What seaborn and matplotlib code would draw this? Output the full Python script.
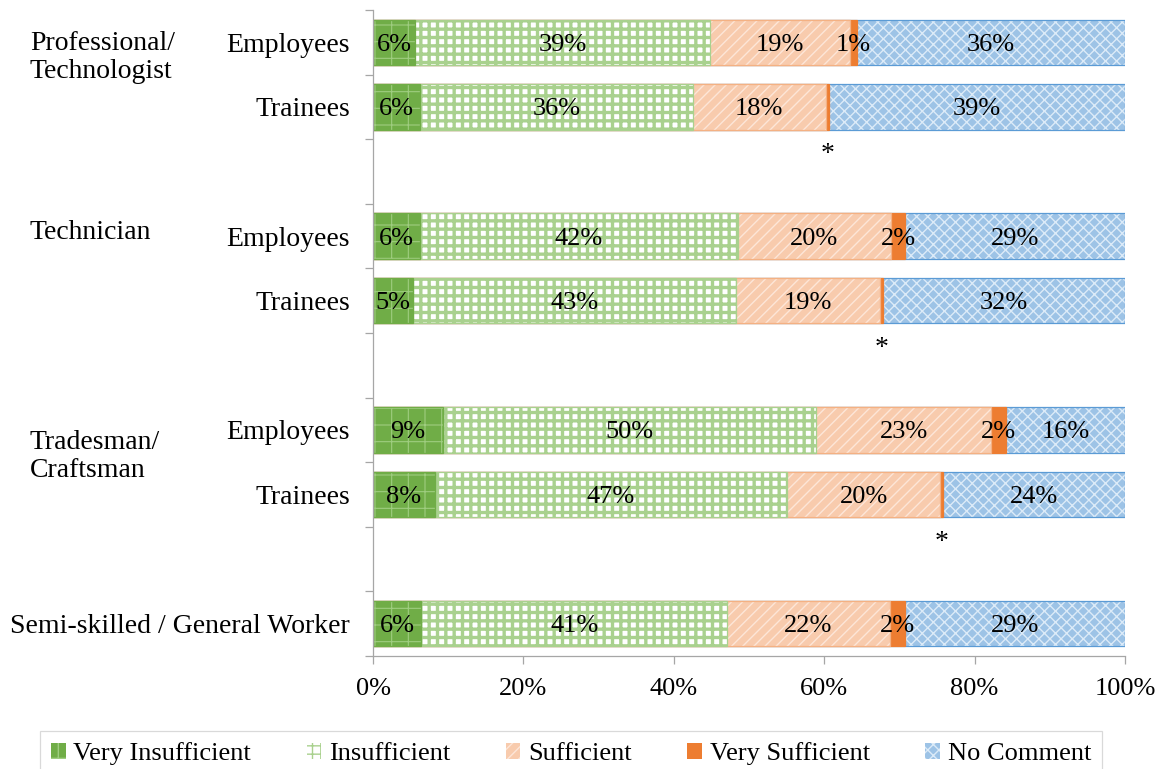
import numpy as np
import pandas as pd
import matplotlib
matplotlib.use("Agg")
import matplotlib.pyplot as plt
import matplotlib.patches as mpatches
import matplotlib.transforms as mtransforms
import seaborn as sns

# du lieu (doc tu hinh)
rows = ["Employees", "Trainees", "Employees", "Trainees", "Employees", "Trainees",
        "Semi-skilled / General Worker"]
row_pos = [0, 1, 3, 4, 6, 7, 9]
groups = ["Professional/\nTechnologist", "Technician", "Tradesman/\nCraftsman"]
group_pos = [0.24, 2.95, 6.41]

categories = ["Very Insufficient", "Insufficient", "Sufficient", "Very Sufficient", "No Comment"]
very_insufficient = [5.6, 6.3, 6.3, 5.3, 9.3, 8.2, 6.4]
insufficient = [39.2, 36.2, 42.2, 43.0, 49.6, 46.9, 40.7]
sufficient = [18.6, 17.7, 20.4, 19.1, 23.3, 20.3, 21.6]
very_sufficient = [1.0, 0.4, 1.9, 0.4, 2.0, 0.4, 2.0]
no_comment = [35.6, 39.4, 29.2, 32.2, 15.8, 24.2, 29.3]

df = pd.DataFrame({"row": rows, "pos": row_pos,
                   "Very Insufficient": very_insufficient,
                   "Insufficient": insufficient,
                   "Sufficient": sufficient,
                   "Very Sufficient": very_sufficient,
                   "No Comment": no_comment})

# style cho tung nhom: mau nen, hatch, mau hatch, do day hatch, mau vien
styles = {
    "Very Insufficient": ("#70ad47", "+", "#9fcd80", 0.8, "#70ad47"),
    "Insufficient": ("#ffffff", "++", "#a9d18e", 2.4, "#a9d18e"),
    "Sufficient": ("#f8cbad", "///", "#fde6d8", 1.0, "#f4b183"),
    "Very Sufficient": ("#ed7d31", None, "#ed7d31", 0.0, "#ed7d31"),
    "No Comment": ("#9dc3e6", "xxx", "#dcebf8", 1.0, "#5b9bd5"),
}

sns.set_theme(style="white")
plt.rcParams["font.family"] = ["Liberation Serif", "DejaVu Serif"]
plt.rcParams["text.color"] = "black"
plt.rcParams["xtick.color"] = "black"
plt.rcParams["ytick.color"] = "black"

fig = plt.figure(figsize=(11.66, 7.69), dpi=100)
ax = fig.add_axes([373 / 1166, 1 - 656 / 769, (1125 - 373) / 1166, (656 - 10) / 769])

cum = df[categories].cumsum(axis=1)

# ve tu lop ngoai vao trong (stacked bang cach chong cac thanh tich luy)
for cat in categories[::-1]:
    face, hatch, hcol, hlw, ecol = styles[cat]
    n_before = len(ax.patches)
    with plt.rc_context({"hatch.linewidth": max(hlw, 0.1)}):
        sns.barplot(x=cum[cat], y=df["pos"], orient="h", native_scale=True,
                    color=face, saturation=1, hatch=hatch, edgecolor=hcol,
                    linewidth=0, width=0.7, errorbar=None, ax=ax)
    for p in ax.patches[n_before:]:
        if hasattr(p, "set_hatch_linewidth"):
            p.set_hatch_linewidth(max(hlw, 0.1))
    ax.barh(df["pos"], cum[cat], height=0.7, facecolor="none",
            edgecolor=ecol, linewidth=0.9)

# nhan phan tram
for i in range(len(df)):
    left = 0
    for cat in categories:
        v = df[cat].iloc[i]
        if v >= 0.5:
            ax.text(left + v / 2, df["pos"].iloc[i], f"{round(v)}%",
                    ha="center", va="center_baseline", fontsize=19, color="black")
        else:
            ax.text(left + v / 2, df["pos"].iloc[i] + 0.74, "*",
                    ha="center", va="center", fontsize=20, color="black")
        left += v

ax.set_xlim(0, 100)
ax.set_ylim(9.5, -0.5)
ax.set_xticks(np.arange(0, 101, 20))
ax.set_xticklabels([f"{t}%" for t in range(0, 101, 20)])
ax.set_yticks(row_pos)
ax.set_yticklabels(rows)
ax.set_yticks(np.arange(-0.5, 9.6, 1), minor=True)
ax.set_xlabel("")
ax.set_ylabel("")

for s in ["top", "right"]:
    ax.spines[s].set_visible(False)
for s in ["left", "bottom"]:
    ax.spines[s].set_color("#a6a6a6")
    ax.spines[s].set_linewidth(0.9)

ax.tick_params(axis="y", which="major", length=0, pad=16.5, labelsize=20)
ax.tick_params(axis="y", which="minor", left=True, length=6, color="#a6a6a6", width=0.9)
ax.tick_params(axis="x", which="major", bottom=True, length=6, color="#a6a6a6",
               width=0.9, pad=10, labelsize=19)

trans = mtransforms.blended_transform_factory(fig.transFigure, ax.transData)
for g, gp in zip(groups, group_pos):
    ax.text(30 / 1166, gp, g, transform=trans, ha="left", va="center",
            fontsize=20, linespacing=1.15)

handles = []
for cat in categories:
    face, hatch, hcol, hlw, ecol = styles[cat]
    h = mpatches.Patch(facecolor=face, hatch=hatch, edgecolor=hcol, linewidth=0, label=cat)
    handles.append(h)

leg = fig.legend(handles=handles, loc="upper center", bbox_to_anchor=(571 / 1166, 1 - 731 / 769),
                 ncol=5, frameon=True, fancybox=False, edgecolor="#d0d0d0",
                 fontsize=19, handlelength=0.55, handleheight=0.55, handletextpad=0.3,
                 columnspacing=2.1, borderpad=0.42, borderaxespad=0)
leg.get_frame().set_linewidth(0.9)

fig.savefig("out.png", dpi=100)
